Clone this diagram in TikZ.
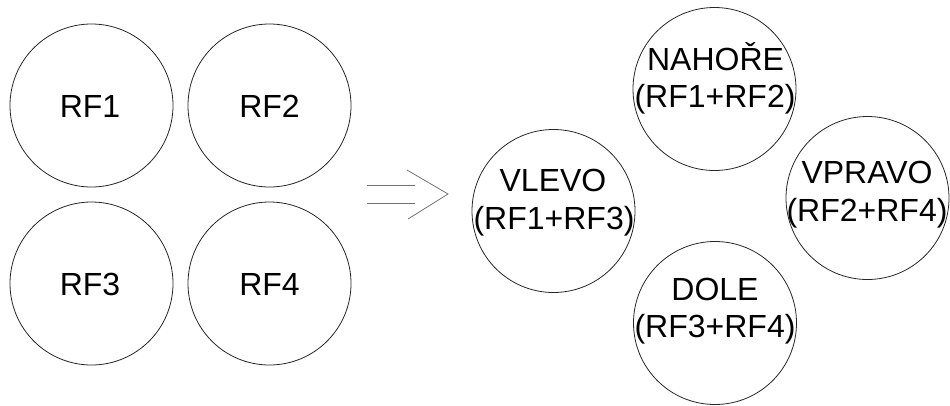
\documentclass[tikz,border=0pt]{standalone}
\usepackage{fontspec}
\setmainfont{Liberation Sans}
\begin{document}
\begin{tikzpicture}[x=1pt,y=-1pt,
  ring/.style={draw=black!85,line width=0.8pt,circle,minimum size=163pt,inner sep=0pt},
  lbl/.style={anchor=base,inner sep=0pt,font=\fontsize{32}{38}\selectfont,text=black},
  arrowline/.style={draw=black!55,line width=0.8pt}]
\useasboundingbox (0,0) rectangle (950,405);
% left group
\node[ring] (rf1) at (91.5,105.5) {};
\node[ring] (rf2) at (269.5,105.5) {};
\node[ring] (rf3) at (91.5,283.5) {};
\node[ring] (rf4) at (269.5,283.5) {};
\node[lbl] (t1) at (90,117) {RF1};
\node[lbl] (t2) at (269.5,117) {RF2};
\node[lbl] (t3) at (90,295) {RF3};
\node[lbl] (t4) at (269.5,295) {RF4};
% arrow
\coordinate (a1) at (367,185);
\coordinate (a2) at (415,185);
\coordinate (b1) at (367,203);
\coordinate (b2) at (415,203);
\coordinate (c1) at (407,170);
\coordinate (c2) at (448,194);
\coordinate (c3) at (408,219);
\draw[arrowline] (a1) -- (a2);
\draw[arrowline] (b1) -- (b2);
\draw[arrowline] (c1) -- (c2) -- (c3);
% right group
\node[ring] (nahore) at (714.5,89) {};
\node[ring] (vlevo) at (553.5,211) {};
\node[ring] (vpravo) at (867.5,198) {};
\node[ring] (dole) at (715,323) {};
\node[lbl] (n1) at (715.5,70) {NAHOŘE};
\node[lbl] (n2) at (715,107) {(RF1+RF2)};
\node[lbl] (l1) at (553,191) {VLEVO};
\node[lbl] (l2) at (554,229) {(RF1+RF3)};
\node[lbl] (p1) at (867,183) {VPRAVO};
\node[lbl] (p2) at (867,221) {(RF2+RF4)};
\node[lbl] (d1) at (715,300) {DOLE};
\node[lbl] (d2) at (715,337) {(RF3+RF4)};
\end{tikzpicture}
\end{document}
